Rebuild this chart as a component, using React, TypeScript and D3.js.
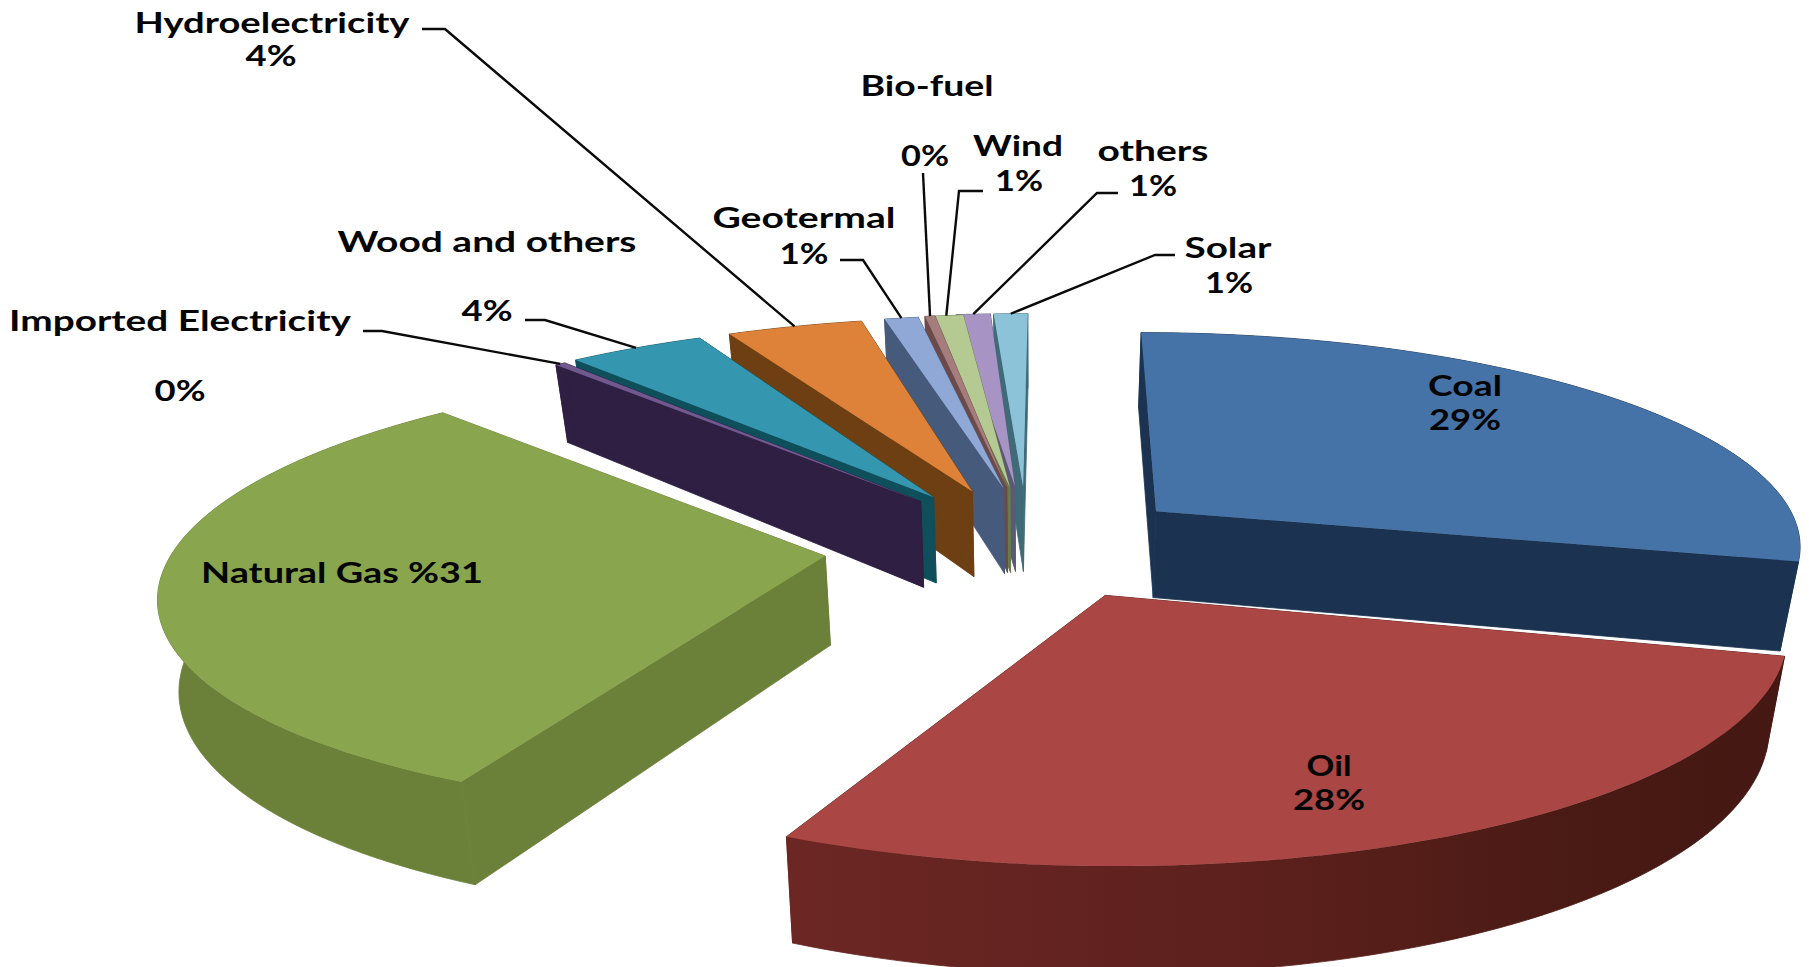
import React from "react";
import * as d3 from "d3";

// Energy mix shares, in percent. The two 0% sources are slivers that round down.
const categories = ["Coal", "Oil", "Natural Gas", "Imported Electricity", "Wood and others", "Hydroelectricity", "Geotermal", "Bio-fuel", "Wind", "others", "Solar"];
const shares = [29, 28, 31, 0.3, 4, 4, 1, 0.3, 1, 1, 1];

const topColors = ["#4572a7", "#aa4643", "#89a54e", "#71588f", "#3596b0", "#dd8238", "#8fa8d6", "#a47d7c", "#b5ca92", "#a794c4", "#8cc3d8"];
const wallColors = ["#1b3350", "#5c201c", "#6b8038", "#2f1f42", "#0f4f5c", "#6d3f12", "#465a7c", "#6d4a4a", "#6a7a4d", "#5a5a78", "#3f6b78"];
// How far each slice is pulled out of the pie, across and towards the back, in radii.
const pullX = [0.186, 0.1, -0.325, -0.186, -0.166, -0.105, -0.055, -0.05, -0.045, -0.037, -0.024];
const pullY = [0.122, -0.267, -0.091, 0.17, 0.19, 0.22, 0.235, 0.24, 0.24, 0.245, 0.245];
// Extra turn of each pulled-out slice about its own tip, in degrees.
const turn = [0, 1, 2, 3.7, 3.5, 2.9, 2.4, 2.8, 1.9, 0.7, 0.3];
// Back slices are painted first so nearer ones overlap them.
const paintOrder = [10, 9, 8, 7, 6, 5, 4, 3, 0, 2, 1];

const WIDTH = 1809;
const HEIGHT = 967;
const VIEW = { cx: 1038, cy: 536.5, sx: 646, sy: 211.7, depth: 88, persp: 0.147, drop: 0.025 };

// Pie plane (x right, y to the back, z downward, in radii) projected to the screen.
const project = (x: number, y: number, z = 0): [number, number] => {
  const w = 1 + VIEW.persp * y;
  return [
    VIEW.cx + (VIEW.sx * x) / (w * (1 + VIEW.drop * z)),
    VIEW.cy - (VIEW.sy * y) / w + (VIEW.depth * z) / w,
  ];
};

// Text blocks: [centre x, centre y, width] for name and for percentage.
const nameBoxes: [number, number, number][] = [
  [1465, 386, 74], [1329, 766, 45], [342, 573, 282], [180, 321, 342], [487, 242, 299],
  [272, 23, 275], [804, 218, 183], [927, 86, 133], [1018, 146, 90], [1153, 151, 111], [1228, 248, 87],
];
const pctBoxes: ([number, number, number] | null)[] = [
  [1465, 420, 72], [1329, 800, 72], null, [180, 391, 51], [487, 311, 51],
  [271, 56, 51], [804, 254, 49], [925, 156, 48], [1019, 181, 48], [1153, 186, 48], [1229, 283, 48],
];
// Leader lines start at these points and run on to the slice rim.
const leaderStarts: ([number, number][] | null)[] = [
  null, null, null,
  [[363, 331], [382, 331]], [[525, 320], [545, 320]], [[422, 29], [445, 29]],
  [[840, 260], [863, 260]], [[923, 173]], [[983, 191], [959, 191]], [[1118, 193], [1097, 193]], [[1175, 255], [1155, 255]],
];

const line = d3.line<[number, number]>();
const pie = d3.pie<number>().sort(null).startAngle(0).endAngle(2 * Math.PI);
const colorTop = d3.scaleOrdinal<string, string>().domain(categories).range(topColors);
const colorWall = d3.scaleOrdinal<string, string>().domain(categories).range(wallColors);

const slices = pie(shares).map((arc, i) => {
  const spin = (turn[i] * Math.PI) / 180;
  const from = arc.startAngle + spin;
  const to = arc.endAngle + spin;
  const mid = (from + to) / 2;
  const ox = pullX[i];
  const oy = pullY[i];
  const steps = Math.max(2, Math.ceil((to - from) * 40));
  const angles = d3.range(steps + 1).map((s) => from + ((to - from) * s) / steps);
  const rim = (z: number) => angles.map((a) => project(ox + Math.sin(a), oy + Math.cos(a), z));
  return {
    name: categories[i],
    index: i,
    apex: project(ox, oy),
    apexLow: project(ox, oy, 1),
    top: rim(0),
    low: rim(1),
    anchor: project(ox + Math.sin(mid), oy + Math.cos(mid)),
  };
});

const closed = (pts: [number, number][]) => line(pts) + "Z";

const Label = ({ box, text }: { box: [number, number, number]; text: string }) => (
  <text
    x={box[0]}
    y={box[1] + 10}
    textAnchor="middle"
    textLength={box[2]}
    lengthAdjust="spacingAndGlyphs"
    fontFamily="Lato, 'Open Sans', sans-serif"
    fontWeight={700}
    fontSize={28}
    fill="#050505"
  >
    {text}
  </text>
);

export default function App() {
  return (
    <svg width={WIDTH} height={HEIGHT} viewBox={`0 0 ${WIDTH} ${HEIGHT}`} style={{ position: "absolute", left: 0, top: 0, display: "block", background: "#fff" }}>
      <defs>
        <linearGradient id="oilWall" gradientUnits="userSpaceOnUse" x1={787} y1={0} x2={1770} y2={0}>
          <stop offset="0" stopColor="#6c2724" />
          <stop offset="0.5" stopColor="#5c201c" />
          <stop offset="0.8" stopColor="#4a1a14" />
          <stop offset="1" stopColor="#451813" />
        </linearGradient>
      </defs>
      {paintOrder.map((i) => {
        const s = slices[i];
        const wall = colorWall(s.name);
        const outerFill = s.name === "Oil" ? "url(#oilWall)" : wall;
        const last = s.top.length - 1;
        return (
          <g key={s.name}>
            <path d={closed([s.apex, s.top[0], s.low[0], s.apexLow])} fill={wall} stroke={wall} strokeWidth={0.8} />
            <path d={closed([s.apex, s.top[last], s.low[last], s.apexLow])} fill={wall} stroke={wall} strokeWidth={0.8} />
            <path d={closed([...s.top, ...[...s.low].reverse()])} fill={outerFill} stroke={outerFill} strokeWidth={0.8} />
            <path d={closed([s.apex, ...s.top])} fill={colorTop(s.name)} />
          </g>
        );
      })}
      {slices.map((s) => {
        const start = leaderStarts[s.index];
        return start ? <path key={s.name} d={line([...start, s.anchor]) as string} fill="none" stroke="#0a0a0a" strokeWidth={2.4} /> : null;
      })}
      {categories.map((name, i) => {
        const pct = pctBoxes[i];
        return (
          <g key={name}>
            <Label box={nameBoxes[i]} text={pct ? name : `${name} %${shares[i]}`} />
            {pct ? <Label box={pct} text={`${Math.round(shares[i])}%`} /> : null}
          </g>
        );
      })}
    </svg>
  );
}
